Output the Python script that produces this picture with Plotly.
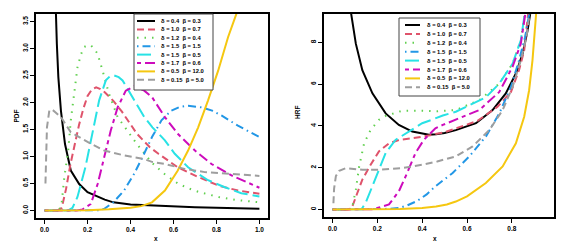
import plotly.graph_objects as go

W, H = 567, 251

# ---------------- data ----------------
deltas = ["0.4", "1.0", "1.2", "1.5", "1.5", "1.7", "0.5", "0.15"]
betas = ["0.3", "0.7", "0.4", "1.5", "0.5", "0.6", "12.0", "5.0"]
colors = ["#000000", "#DF536B", "#61D04F", "#2297E6", "#28E2E5", "#CD0BBC", "#F5C710", "#9E9E9E"]
dashes = ["solid", "7px,4px", "1.5px,6px", "1.5px,4px,8px,4px", "14px,5px",
          "4px,4px,10px,4px", "solid", "7px,4px"]

# PDF curves
pdf_x1 = [0.035, 0.045, 0.053, 0.057, 0.064, 0.076, 0.095, 0.122, 0.161, 0.2, 0.28, 0.32, 0.4, 0.5, 0.6, 0.7, 0.8, 0.9, 1.0]
pdf_y1 = [6.0, 4.5, 3.7, 3.09, 2.47, 1.85, 1.23, 0.74, 0.49, 0.34, 0.2, 0.15, 0.11, 0.09, 0.07, 0.06, 0.05, 0.04, 0.03]
pdf_x2 = [0, 0.06, 0.08, 0.09, 0.1, 0.12, 0.14, 0.16, 0.18, 0.2, 0.22, 0.24, 0.26, 0.28, 0.32, 0.36, 0.43, 0.49, 0.53, 0.62, 0.715, 0.81, 0.9, 1.0]
pdf_y2 = [0, 0, 0.05, 0.2, 0.4, 0.85, 1.25, 1.58, 1.88, 2.12, 2.24, 2.28, 2.25, 2.19, 2.03, 1.83, 1.42, 1.17, 1.05, 0.8, 0.62, 0.46, 0.37, 0.31]
pdf_x3 = [0, 0.06, 0.07, 0.079, 0.092, 0.11, 0.122, 0.138, 0.153, 0.17, 0.185, 0.2, 0.215, 0.23, 0.247, 0.27, 0.3, 0.34, 0.38, 0.43, 0.5, 0.56, 0.62, 0.67, 0.72, 0.81, 0.9, 1.0]
pdf_y3 = [0, 0, 0.03, 0.12, 0.62, 1.11, 1.67, 2.22, 2.65, 2.9, 3.03, 3.06, 3.06, 3.0, 2.9, 2.59, 2.16, 1.73, 1.5, 1.23, 0.88, 0.67, 0.5, 0.41, 0.34, 0.25, 0.19, 0.15]
pdf_x4 = [0, 0.2, 0.25, 0.278, 0.32, 0.37, 0.417, 0.456, 0.5, 0.544, 0.59, 0.63, 0.668, 0.73, 0.78, 0.823, 0.9, 1.0]
pdf_y4 = [0, 0, 0.005, 0.03, 0.15, 0.37, 0.68, 0.99, 1.36, 1.67, 1.85, 1.92, 1.94, 1.91, 1.85, 1.76, 1.57, 1.36]
pdf_x5 = [0, 0.11, 0.13, 0.153, 0.19, 0.223, 0.254, 0.285, 0.305, 0.324, 0.345, 0.363, 0.41, 0.464, 0.502, 0.56, 0.606, 0.668, 0.761, 0.839, 0.916, 1.0]
pdf_y5 = [0, 0, 0.05, 0.25, 0.8, 1.42, 2.04, 2.41, 2.49, 2.5, 2.47, 2.41, 2.1, 1.73, 1.54, 1.3, 1.05, 0.8, 0.56, 0.43, 0.32, 0.26]
pdf_x6 = [0, 0.15, 0.177, 0.215, 0.247, 0.278, 0.308, 0.34, 0.378, 0.417, 0.464, 0.5, 0.56, 0.62, 0.7, 0.777, 0.87, 1.0]
pdf_y6 = [0, 0, 0.02, 0.12, 0.49, 0.99, 1.48, 1.91, 2.22, 2.3, 2.22, 2.1, 1.73, 1.42, 1.11, 0.86, 0.65, 0.42]
pdf_x7 = [0, 0.1, 0.2, 0.3, 0.4, 0.45, 0.5, 0.56, 0.62, 0.668, 0.715, 0.761, 0.808, 0.854, 0.898, 0.95]
pdf_y7 = [0, 0.0, 0.005, 0.02, 0.05, 0.08, 0.15, 0.37, 0.74, 1.11, 1.54, 2.04, 2.59, 3.21, 3.7, 4.5]
pdf_x8 = [0.004, 0.006, 0.011, 0.022, 0.035, 0.05, 0.076, 0.122, 0.2, 0.278, 0.37, 0.464, 0.5, 0.56, 0.652, 0.746, 0.854, 0.978, 1.0]
pdf_y8 = [0.5, 0.7, 1.54, 1.85, 1.87, 1.82, 1.73, 1.45, 1.27, 1.11, 1.02, 0.95, 0.9, 0.86, 0.77, 0.71, 0.68, 0.65, 0.64]

# HRF curves
hrf_x1 = [0.06, 0.07, 0.081, 0.104, 0.133, 0.178, 0.237, 0.296, 0.356, 0.43, 0.462, 0.5, 0.55, 0.64, 0.714, 0.773, 0.818, 0.848, 0.87, 0.884, 0.9]
hrf_y1 = [13, 11, 9.52, 7.94, 6.67, 5.56, 4.6, 4.05, 3.73, 3.58, 3.6, 3.66, 3.8, 4.13, 4.76, 5.56, 6.51, 7.46, 8.57, 9.52, 11]
hrf_x2 = [0, 0.065, 0.085, 0.104, 0.133, 0.17, 0.207, 0.252, 0.296, 0.356, 0.4, 0.5, 0.573, 0.647, 0.736, 0.796, 0.832, 0.855, 0.874, 0.89]
hrf_y2 = [0, 0, 0.05, 0.63, 1.43, 2.14, 2.78, 3.17, 3.33, 3.41, 3.48, 3.7, 3.97, 4.24, 4.92, 5.63, 6.67, 7.62, 9.52, 11]
hrf_x3 = [0, 0.06, 0.075, 0.089, 0.104, 0.119, 0.141, 0.17, 0.207, 0.237, 0.311, 0.4, 0.467, 0.55, 0.655, 0.744, 0.803, 0.84, 0.862, 0.88]
hrf_y3 = [0, 0, 0.02, 0.16, 0.95, 2.06, 3.17, 3.81, 4.29, 4.48, 4.73, 4.73, 4.7, 4.76, 5.24, 6.03, 6.98, 8.1, 9.52, 11]
hrf_x4 = [0, 0.2, 0.25, 0.3, 0.332, 0.376, 0.42, 0.458, 0.5, 0.536, 0.61, 0.684, 0.744, 0.796, 0.832, 0.859, 0.88, 0.895]
hrf_y4 = [0, 0.01, 0.03, 0.08, 0.19, 0.4, 0.72, 1.1, 1.45, 1.75, 2.54, 3.49, 4.6, 5.87, 7.14, 8.25, 9.52, 11]
hrf_x5 = [0, 0.11, 0.13, 0.148, 0.178, 0.207, 0.237, 0.281, 0.341, 0.4, 0.444, 0.492, 0.55, 0.684, 0.744, 0.803, 0.84, 0.862, 0.88]
hrf_y5 = [0, 0, 0.02, 0.32, 1.11, 1.9, 2.7, 3.33, 3.73, 4.13, 4.3, 4.5, 4.68, 5.37, 6.03, 6.98, 8.1, 9.52, 11]
hrf_x6 = [0, 0.15, 0.18, 0.252, 0.296, 0.333, 0.37, 0.407, 0.459, 0.492, 0.566, 0.655, 0.744, 0.803, 0.84, 0.865, 0.88]
hrf_y6 = [0, 0, 0.01, 0.24, 0.87, 1.75, 2.7, 3.33, 3.89, 4.05, 4.37, 4.76, 5.63, 6.83, 7.94, 9.52, 10.8]
hrf_x7 = [0, 0.2, 0.3, 0.4, 0.462, 0.51, 0.55, 0.6, 0.684, 0.759, 0.818, 0.855, 0.877, 0.892, 0.904, 0.91, 0.92]
hrf_y7 = [0, 0.0, 0.02, 0.07, 0.14, 0.24, 0.38, 0.63, 1.27, 2.06, 3.17, 4.44, 5.71, 7.14, 8.57, 9.52, 11]
hrf_x8 = [0.004, 0.007, 0.015, 0.03, 0.059, 0.133, 0.207, 0.311, 0.4, 0.467, 0.55, 0.625, 0.7, 0.759, 0.803, 0.84, 0.865, 0.884, 0.9]
hrf_y8 = [0.3, 1.0, 1.6, 1.85, 1.98, 1.9, 1.9, 1.98, 2.14, 2.3, 2.54, 3.02, 3.81, 4.76, 5.87, 7.14, 8.25, 9.52, 11]

pdf_x = [pdf_x1, pdf_x2, pdf_x3, pdf_x4, pdf_x5, pdf_x6, pdf_x7, pdf_x8]
pdf_y = [pdf_y1, pdf_y2, pdf_y3, pdf_y4, pdf_y5, pdf_y6, pdf_y7, pdf_y8]
hrf_x = [hrf_x1, hrf_x2, hrf_x3, hrf_x4, hrf_x5, hrf_x6, hrf_x7, hrf_x8]
hrf_y = [hrf_y1, hrf_y2, hrf_y3, hrf_y4, hrf_y5, hrf_y6, hrf_y7, hrf_y8]

pdf_xticks = [0.0, 0.2, 0.4, 0.6, 0.8, 1.0]
pdf_yticks = [0.0, 0.5, 1.0, 1.5, 2.0, 2.5, 3.0, 3.5]
hrf_xticks = [0.0, 0.2, 0.4, 0.6, 0.8]
hrf_yticks = [0, 2, 4, 6, 8]

# ---------------- figure ----------------
FONT = "Liberation Sans"
fig = go.Figure()
for i in range(8):
    fig.add_trace(go.Scatter(x=pdf_x[i], y=pdf_y[i], mode="lines", xaxis="x", yaxis="y",
                             line=dict(color=colors[i], width=2, dash=dashes[i]),
                             showlegend=False, hoverinfo="skip"))
for i in range(8):
    fig.add_trace(go.Scatter(x=hrf_x[i], y=hrf_y[i], mode="lines", xaxis="x2", yaxis="y2",
                             line=dict(color=colors[i], width=2, dash=dashes[i]),
                             showlegend=False, hoverinfo="skip"))

def px(x):
    return x / W

def py(y):
    return 1 - y / H

tickfont = dict(family=FONT, size=6.5, color="black", weight="bold")
axcommon = dict(showgrid=False, zeroline=False, showline=True, mirror=True,
                linecolor="black", linewidth=1.5, ticks="outside", ticklen=4,
                tickwidth=1.2, tickcolor="black", tickfont=tickfont)

fig.update_layout(
    width=W, height=H, autosize=False,
    margin=dict(l=0, r=0, t=0, b=0),
    paper_bgcolor="white", plot_bgcolor="white",
    showlegend=False,
    xaxis=dict(domain=[px(36), px(268)], range=[-0.04, 1.04], tickvals=pdf_xticks,
               tickformat=".1f", anchor="y", **axcommon),
    yaxis=dict(domain=[py(218), py(14)], range=[-0.14, 3.64], tickvals=pdf_yticks,
               tickformat=".1f", tickangle=-90, anchor="x", **axcommon),
    xaxis2=dict(domain=[px(324), px(554)], range=[-0.038, 0.988], tickvals=hrf_xticks,
                tickformat=".1f", anchor="y2", **axcommon),
    yaxis2=dict(domain=[py(217), py(14)], range=[-0.36, 9.36], tickvals=hrf_yticks,
                tickformat="d", tickangle=-90, anchor="x2", **axcommon),
)

# axis titles
titlefont = dict(family=FONT, size=6.5, color="black", weight="bold")
ann = [
    dict(text="x", x=px(152), y=py(244), xref="paper", yref="paper", showarrow=False, font=titlefont),
    dict(text="x", x=px(439), y=py(244), xref="paper", yref="paper", showarrow=False, font=titlefont),
    dict(text="PDF", x=px(10), y=py(116), xref="paper", yref="paper", showarrow=False, font=titlefont, textangle=-90),
    dict(text="HRF", x=px(297), y=py(113), xref="paper", yref="paper", showarrow=False, font=titlefont, textangle=-90),
]

# legends (drawn in paper coordinates)
shapes = []
legfont = dict(family=FONT, size=5.8, color="black", weight="bold")
labels = ["δ = %s\u00a0\u00a0β = %s" % (d, b) for d, b in zip(deltas, betas)]
for (bx0, bx1, by0, by1, row0, step, sx0, sx1, tx) in [
        (134, 213, 14, 90, 21, 8.4, 137, 155, 159),
        (399, 480, 18, 96, 25, 8.9, 405, 420, 425)]:
    shapes.append(dict(type="rect", xref="paper", yref="paper", x0=px(bx0), x1=px(bx1),
                       y0=py(by1), y1=py(by0), line=dict(color="#444444", width=1),
                       fillcolor="white", layer="above"))
    for i in range(8):
        yy = row0 + i * step
        shapes.append(dict(type="line", xref="paper", yref="paper", x0=px(sx0), x1=px(sx1),
                           y0=py(yy), y1=py(yy), layer="above",
                           line=dict(color=colors[i], width=2, dash=dashes[i])))
        ann.append(dict(text=labels[i], x=px(tx), y=py(yy), xref="paper", yref="paper",
                        xanchor="left", yanchor="middle", showarrow=False, font=legfont))

fig.update_layout(annotations=ann, shapes=shapes)
fig.write_html("out.html", config={"displayModeBar": False},
               post_script="document.body.style.margin='0px';document.body.style.padding='0px';")
